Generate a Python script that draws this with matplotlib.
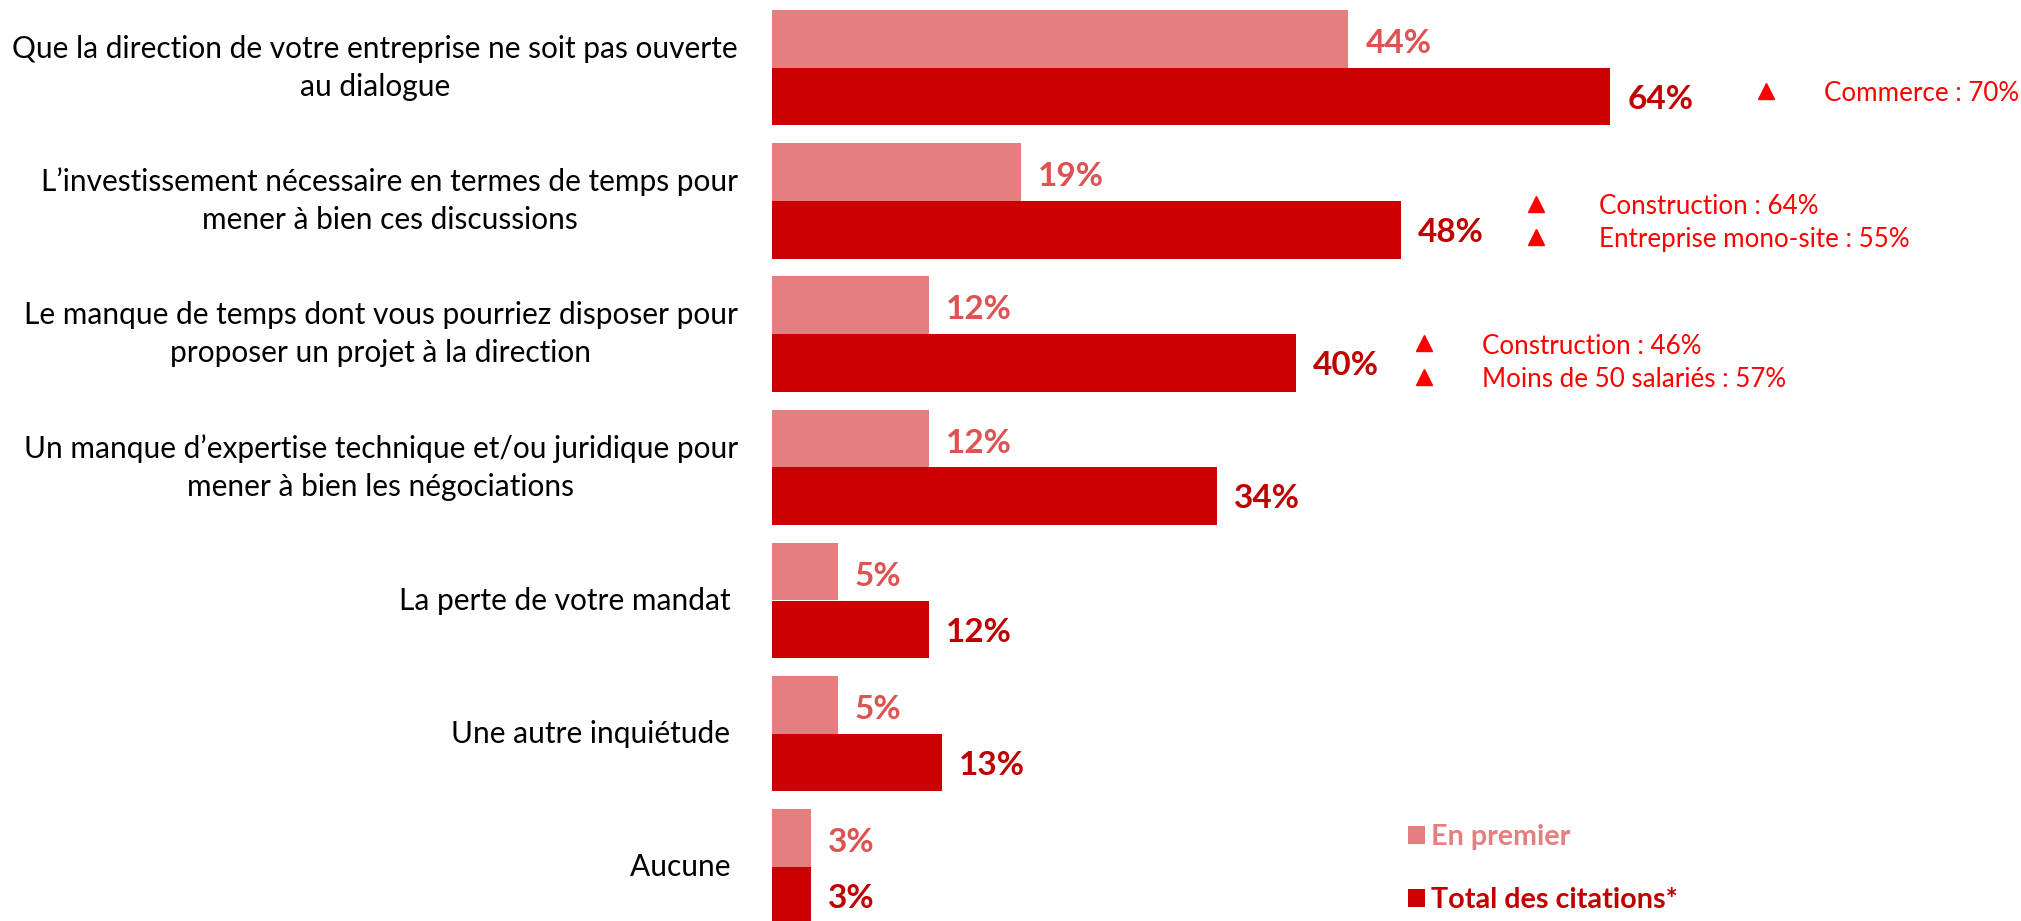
import matplotlib
matplotlib.use("Agg")
import matplotlib.pyplot as plt

plt.rcParams['font.family'] = ['Lato', 'DejaVu Sans']

categories = [
    "Que la direction de votre entreprise ne soit pas ouverte\nau dialogue",
    "L\u2019investissement nécessaire en termes de temps pour\nmener à bien ces discussions",
    "Le manque de temps dont vous pourriez disposer pour\nproposer un projet à la direction",
    "Un manque d\u2019expertise technique et/ou juridique pour\nmener à bien les négociations",
    "La perte de votre mandat ",
    "Une autre inquiétude ",
    "Aucune ",
]
en_premier = [44, 19, 12, 12, 5, 5, 3]
total_citations = [64, 48, 40, 34, 12, 13, 3]
series_names = ["En premier", "Total des citations*"]

# sub-group highlights: (category index, lines, triangle x, text x) in %
highlights = [
    (0, ["Commerce : 70%"], 75.9, 80.3),
    (1, ["Construction : 64%", "Entreprise mono-site : 55%"], 58.3, 63.1),
    (2, ["Construction : 46%", "Moins de 50 salariés : 57%"], 49.8, 54.2),
]

c_light = "#E57E7E"
c_dark = "#CC0000"
c_light_txt = "#DE5252"
c_dark_txt = "#C00000"
c_hl = "#FF0000"

W, H = 2021, 921
fig = plt.figure(figsize=(W / 100, H / 100), dpi=100)
x0 = 772
ax = fig.add_axes([x0 / W, 0, 1 - x0 / W, 1])
px_per_pct = 13.1
ax.set_xlim(0, (W - x0) / px_per_pct)
spacing = 133.2
top = 67.7
ax.set_ylim((H - top) / spacing, -top / spacing)
h = 57.7 / spacing

ys = list(range(len(categories)))
ax.barh([y - h / 2 for y in ys], en_premier, height=h, color=c_light, label=series_names[0])
ax.barh([y + h / 2 for y in ys], total_citations, height=h, color=c_dark, label=series_names[1])

off = 17 / px_per_pct
for y, a, b in zip(ys, en_premier, total_citations):
    ax.text(a + off, y - h / 2 + 0.035, f"{a}%", color=c_light_txt, fontsize=24, fontweight='bold',
            va='center', ha='left')
    ax.text(b + off, y + h / 2 + 0.02, f"{b}%", color=c_dark_txt, fontsize=24, fontweight='bold',
            va='center', ha='left')

for y, cat in zip(ys, categories):
    ax.text(-34 / px_per_pct, y, cat, ha='right', va='center', multialignment='center',
            fontsize=21.5, color='black', linespacing=1.45)

for idx, lines, xt, xs in highlights:
    if len(lines) == 1:
        yy = [idx + 0.195]
    elif idx == 1:
        yy = [idx + 0.04, idx + 0.29]
    else:
        yy = [idx + 0.09, idx + 0.34]
    for line, yv in zip(lines, yy):
        ax.plot(xt, yv - 0.02, marker='^', color=c_hl, markersize=11, linestyle='none')
        ax.text(xs, yv, line, color=c_hl, fontsize=18.7, va='center', ha='left')

leg = ax.legend(loc='upper left', bbox_to_anchor=(1382 / W, 0.133), bbox_transform=fig.transFigure,
                frameon=False, prop={'weight': 'bold', 'size': 20.7}, handlelength=0.6,
                handleheight=0.6, handletextpad=0.2, labelspacing=1.28)
for t, c in zip(leg.get_texts(), [c_light, c_dark_txt]):
    t.set_color(c)

ax.axis('off')
fig.savefig("out.png", dpi=100)
